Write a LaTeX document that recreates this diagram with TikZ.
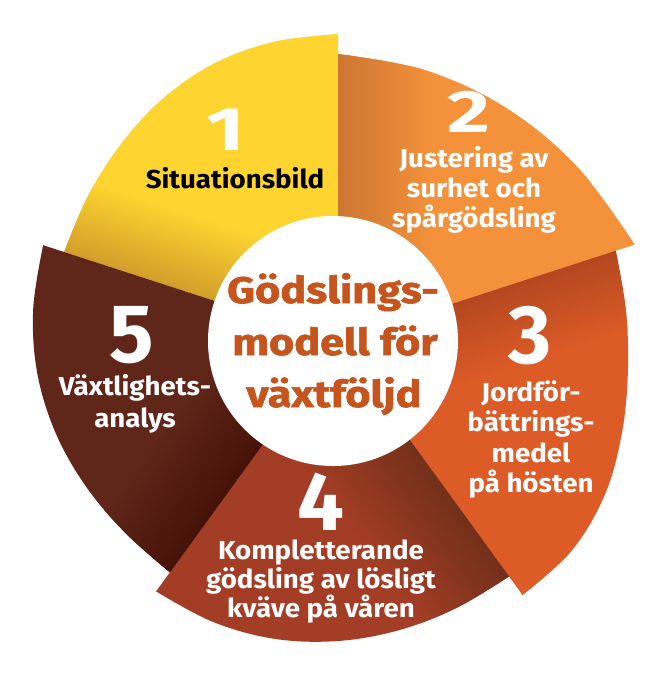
\documentclass[tikz,border=0pt]{standalone}
\usepackage{fontspec}
\setmainfont{Fira Sans}
\usepackage{graphicx}
\definecolor{yA}{HTML}{FDD430}
\definecolor{yD}{HTML}{D29E2A}
\definecolor{oA}{HTML}{F4923B}
\definecolor{oD}{HTML}{CC7532}
\definecolor{rA}{HTML}{DD5B27}
\definecolor{rD}{HTML}{B4471F}
\definecolor{bA}{HTML}{A43D25}
\definecolor{bD}{HTML}{73301A}
\definecolor{dA}{HTML}{60261A}
\definecolor{dD}{HTML}{461208}
\definecolor{ctr}{HTML}{C5541D}
\newcommand\hs[1]{\scalebox{1.065}[1]{#1}}
\newcommand\hc[1]{\scalebox{1.17}[1]{#1}}
\tikzset{
  lbl/.style={font=\bfseries\fontsize{26}{30}\selectfont, text=white, anchor=base, inner sep=0pt},
  num/.style={font=\bfseries\fontsize{83}{90}\selectfont, text=white, anchor=base, inner sep=0pt, text depth=0pt},
  ctrtxt/.style={font=\bfseries\fontsize{37}{40}\selectfont\addfontfeature{FakeBold=1.5}, text=ctr, anchor=base, inner sep=0pt}
}
\begin{document}
\begin{tikzpicture}[x=1pt,y=-1pt]
\useasboundingbox (0,0) rectangle (668,675);
% sector 1 (yellow)
\begin{scope}
  \clip[shift={(338,341)}] (0,0) -- plot[smooth,tension=0.6] coordinates {(-162:288) (-150:289) (-138:293) (-126:299) (-114:304) (-102:306) (-90:307)} -- cycle;
  \fill[yA] (0,0) rectangle (668,675);
  \begin{scope}[transform canvas={shift={(338,341)},rotate=72}]
    \shade[left color=yD,right color=yA] (0,-460) rectangle (75,460);
  \end{scope}
\end{scope}
% sector 2 (orange)
\begin{scope}
  \clip[shift={(338,341)}] (0,0) -- plot[smooth,tension=0.6] coordinates {(-90:287) (-72:284.5) (-54:287.5) (-36:296) (-18:312)} -- cycle;
  \fill[oA] (0,0) rectangle (668,675);
  \begin{scope}[transform canvas={shift={(338,341)},rotate=0}]
    \shade[left color=oD,right color=oA] (0,-460) rectangle (95,460);
  \end{scope}
\end{scope}
% sector 3 (red-orange)
\begin{scope}
  \clip[shift={(338,341)}] (0,0) -- plot[smooth,tension=0.6] coordinates {(-18:292) (-6:289.5) (6:291.5) (18:298.5) (30:308) (42:314) (54:314)} -- cycle;
  \fill[rA] (0,0) rectangle (668,675);
  \begin{scope}[transform canvas={shift={(338,341)},rotate=-72}]
    \shade[left color=rD,right color=rA] (0,-460) rectangle (80,460);
  \end{scope}
\end{scope}
% sector 4 (brown-red)
\begin{scope}
  \clip[shift={(338,341)}] (0,0) -- plot[smooth,tension=0.6] coordinates {(54:291) (66:292) (78:295.5) (90:300) (102:304.5) (114:307.5) (126:309.5)} -- cycle;
  \fill[bA] (0,0) rectangle (668,675);
  \begin{scope}[transform canvas={shift={(338,341)},rotate=-144}]
    \shade[left color=bD,right color=bA] (0,-460) rectangle (100,460);
  \end{scope}
\end{scope}
% sector 5 (dark brown)
\begin{scope}
  \clip[shift={(338,341)}] (0,0) -- plot[smooth,tension=0.6] coordinates {(126:286) (138:286.5) (150:291) (162:297) (174:302.5) (186:306.5) (198:310)} -- cycle;
  \fill[dA] (0,0) rectangle (668,675);
  \begin{scope}[transform canvas={shift={(338,341)},rotate=144}]
    \shade[left color=dD,right color=dA] (0,-460) rectangle (90,460);
  \end{scope}
\end{scope}
% centre disc
\node[circle, fill=white, minimum size=250pt, inner sep=0pt] (hub) at (333,341) {};
% centre text
\node[ctrtxt] (c1) at (333,303) {\hc{Gödslings-}};
\node[ctrtxt] (c2) at (335,355) {\hc{modell för}};
\node[ctrtxt] (c3) at (334,407) {\hc{växtföljd}};
% sector 1
\node[num] (n1) at (226,150) {\scalebox{1}[0.74]{1}};
\node[lbl, text=black] (t1) at (235,188) {\hs{Situationsbild}};
% sector 2
\node[num] (n2) at (469,132) {\scalebox{1}[0.72]{2}};
\node[lbl] (t2a) at (474,167) {\hs{Justering av}};
\node[lbl] (t2b) at (474,197) {\hs{surhet och}};
\node[lbl] (t2c) at (474,227) {\hs{spårgödsling}};
% sector 3
\node[num] (n3) at (530,363) {3};
\node[lbl] (t3a) at (531,401) {\hs{Jordför-}};
\node[lbl] (t3b) at (531,431) {\hs{bättrings-}};
\node[lbl] (t3c) at (531,462) {\hs{medel}};
\node[lbl] (t3d) at (531,492) {\hs{på hösten}};
% sector 4
\node[num] (n4) at (321,530) {4};
\node[lbl] (t4a) at (321,559) {\hs{Kompletterande}};
\node[lbl] (t4b) at (321,588) {\hs{gödsling av lösligt}};
\node[lbl] (t4c) at (321,617) {\hs{kväve på våren}};
% sector 5
\node[num] (n5) at (132,362) {5};
\node[lbl] (t5a) at (135,395) {\hs{Växtlighets-}};
\node[lbl] (t5b) at (135,427) {\hs{analys}};
\end{tikzpicture}
\end{document}
